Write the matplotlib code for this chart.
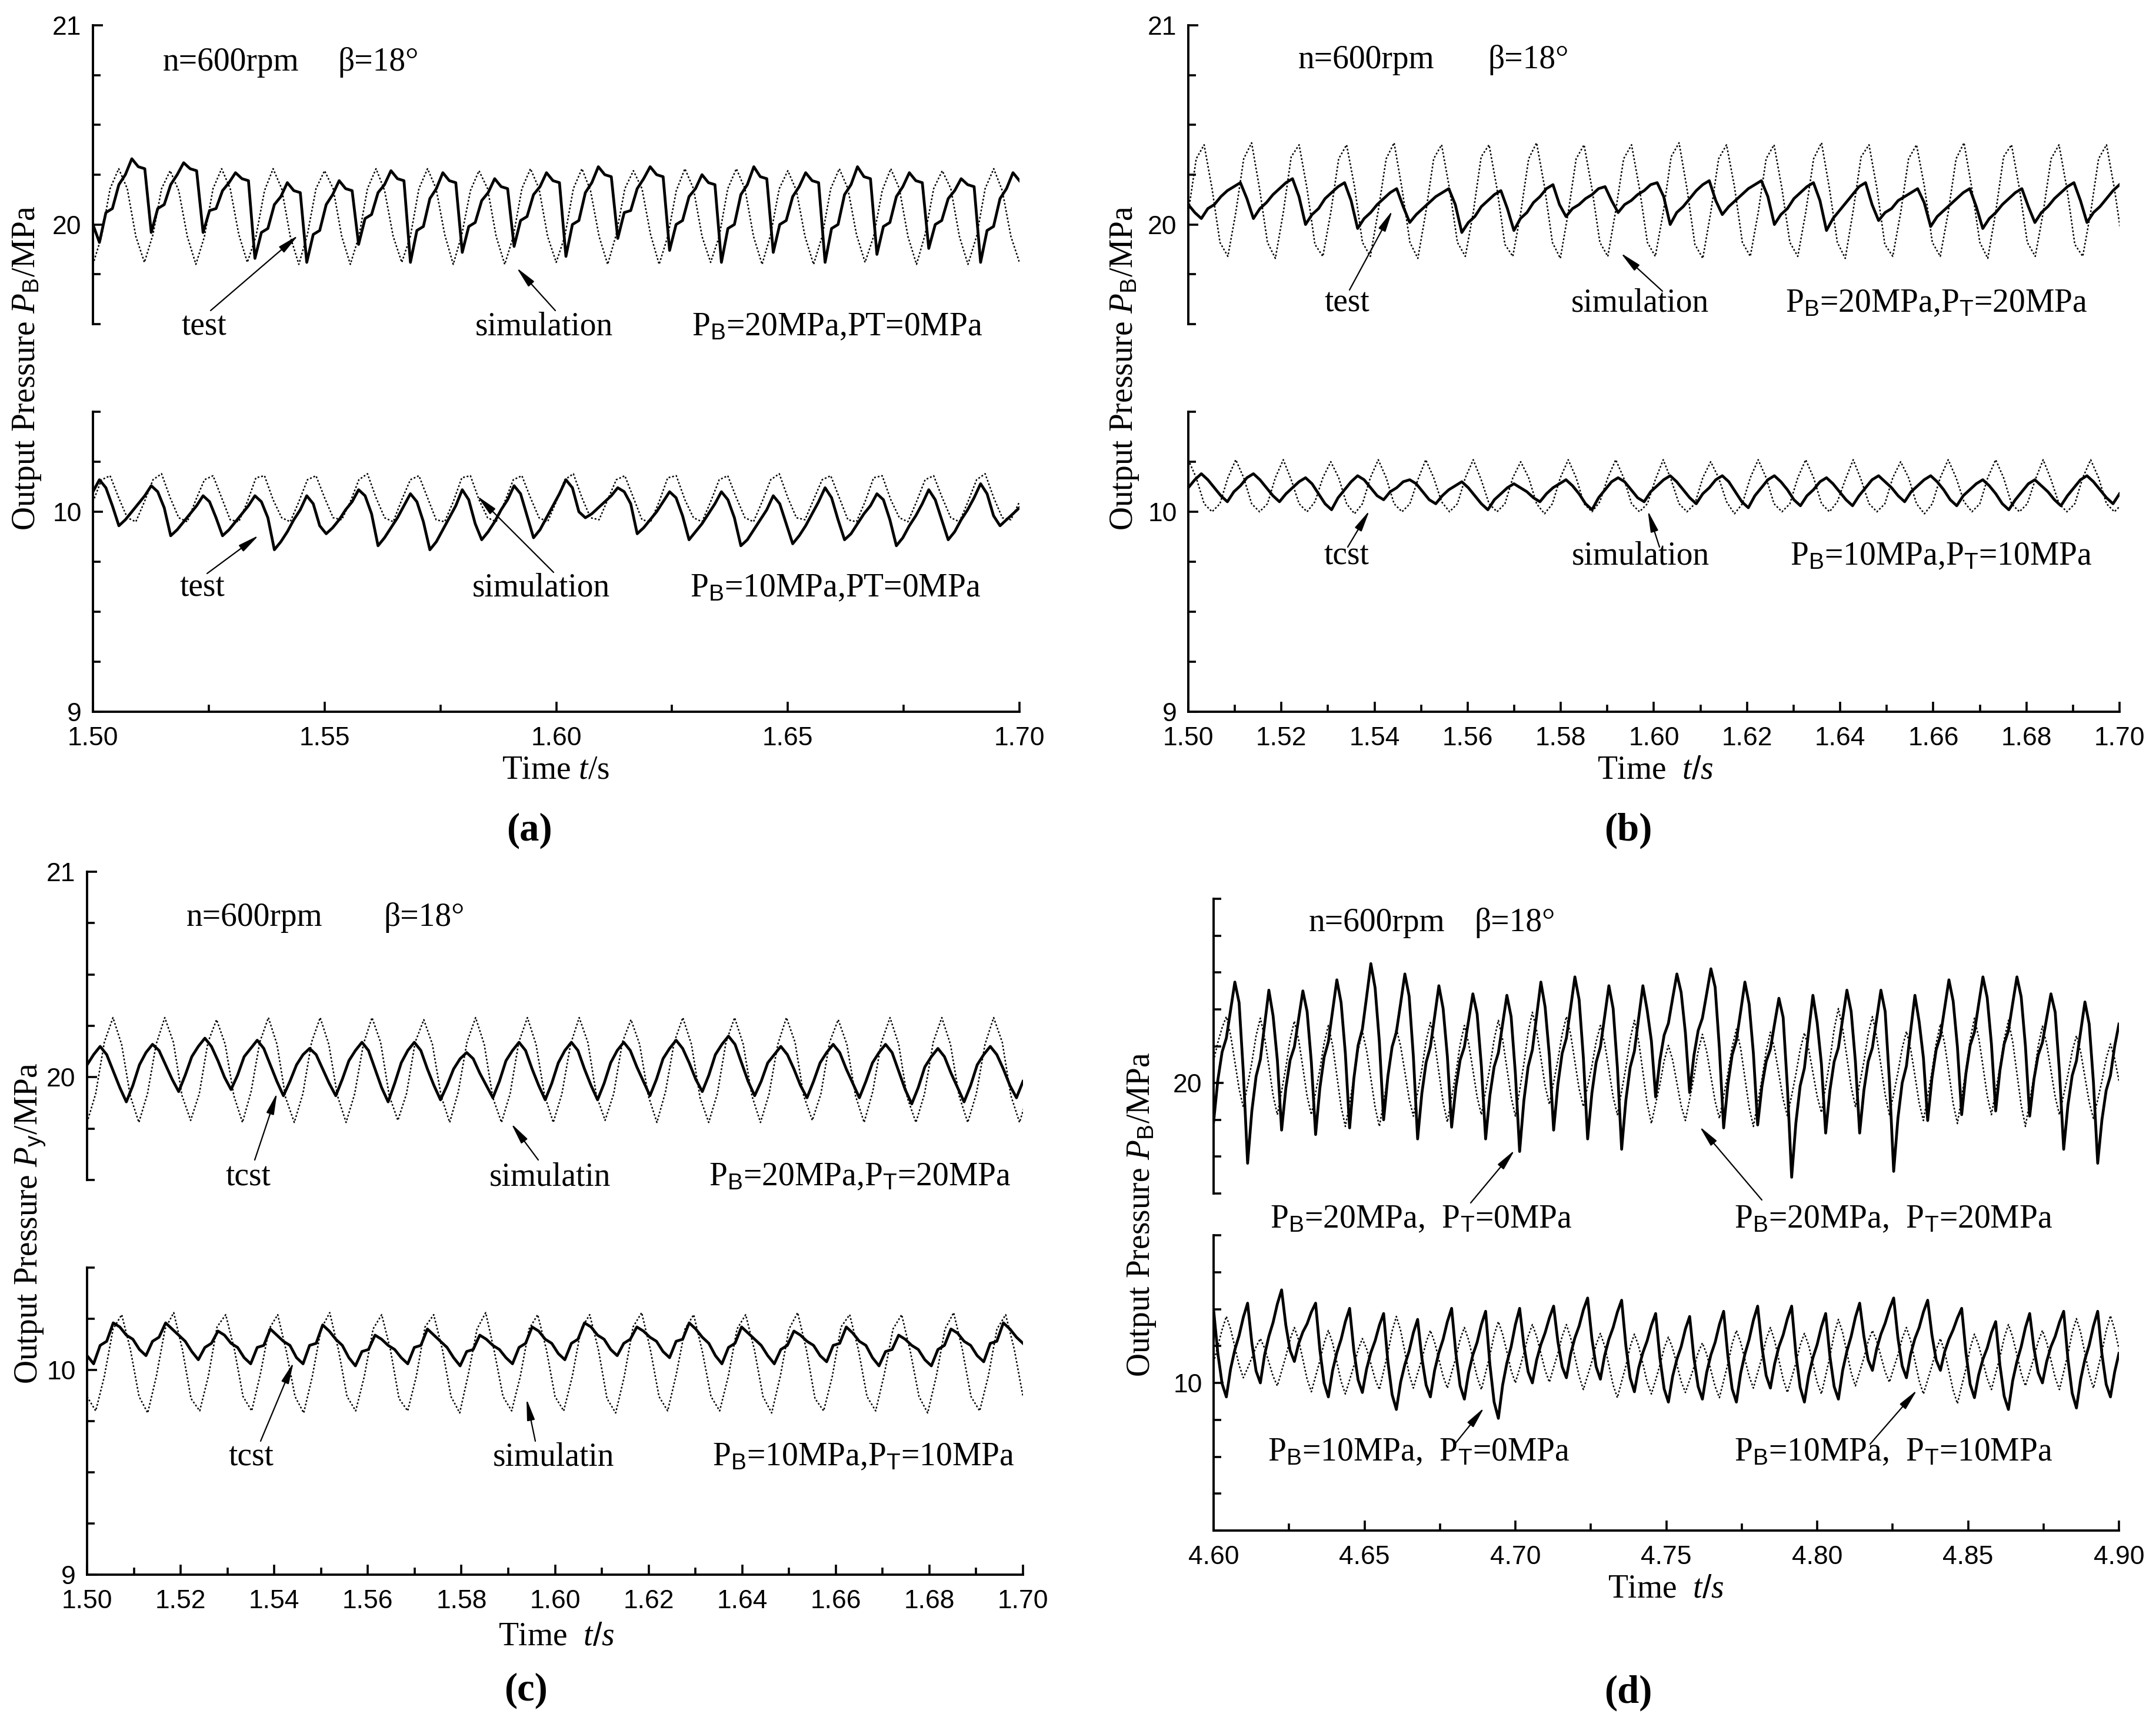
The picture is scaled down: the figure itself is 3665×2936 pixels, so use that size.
import numpy as np
import matplotlib
matplotlib.use("Agg")
import matplotlib.pyplot as plt
from matplotlib.ticker import MultipleLocator, FixedLocator, FormatStrFormatter

# ---------------- data ----------------
# (a)  PB=20/10 MPa, PT=0 MPa ; test sampled every ~1.4 ms, simulation every 1/540 s
TEST_A_TOP = [
    20.00,
    19.91, 20.06, 20.08, 20.20, 20.25, 20.33, 20.29, 20.28,
    19.96, 20.08, 20.10, 20.20, 20.25, 20.31, 20.28, 20.27,
    19.96, 20.07, 20.08, 20.17, 20.21, 20.26, 20.23, 20.22,
    19.83, 19.96, 19.98, 20.10, 20.14, 20.21, 20.17, 20.16,
    19.81, 19.95, 19.97, 20.10, 20.15, 20.22, 20.18, 20.17,
    19.90, 20.03, 20.05, 20.16, 20.20, 20.27, 20.23, 20.22,
    19.81, 19.97, 19.99, 20.13, 20.18, 20.26, 20.22, 20.21,
    19.86, 19.99, 20.01, 20.12, 20.16, 20.23, 20.19, 20.18,
    19.89, 20.02, 20.04, 20.15, 20.19, 20.26, 20.22, 20.21,
    19.84, 20.00, 20.02, 20.16, 20.21, 20.29, 20.25, 20.24,
    19.93, 20.06, 20.07, 20.18, 20.23, 20.29, 20.25, 20.24,
    19.87, 20.00, 20.02, 20.14, 20.18, 20.25, 20.21, 20.20,
    19.81, 19.98, 20.00, 20.15, 20.20, 20.29, 20.24, 20.23,
    19.86, 20.00, 20.02, 20.14, 20.19, 20.26, 20.22, 20.21,
    19.81, 19.98, 20.00, 20.15, 20.20, 20.29, 20.24, 20.23,
    19.85, 19.99, 20.01, 20.14, 20.19, 20.26, 20.22, 20.21,
    19.88, 20.00, 20.02, 20.13, 20.17, 20.23, 20.20, 20.19,
    19.81, 19.97, 19.99, 20.13, 20.18, 20.26, 20.22,
]
SIM_A_TOP = [
    19.80, 19.94, 20.18, 20.28, 20.18, 19.94,
    19.81, 19.95, 20.18, 20.27, 20.17, 19.94,
    19.80, 19.94, 20.18, 20.28, 20.18, 19.95,
    19.81, 19.94, 20.17, 20.28, 20.18, 19.94,
    19.80, 19.95, 20.18, 20.27, 20.18, 19.94,
    19.80, 19.94, 20.18, 20.28, 20.17, 19.94,
    19.81, 19.94, 20.18, 20.28, 20.18, 19.95,
    19.80, 19.95, 20.17, 20.27, 20.18, 19.94,
    19.80, 19.94, 20.18, 20.28, 20.18, 19.94,
    19.81, 19.94, 20.18, 20.28, 20.17, 19.94,
    19.80, 19.95, 20.18, 20.27, 20.18, 19.95,
    19.80, 19.94, 20.17, 20.28, 20.18, 19.94,
    19.81, 19.94, 20.18, 20.28, 20.18, 19.94,
    19.80, 19.95, 20.18, 20.27, 20.17, 19.94,
    19.80, 19.94, 20.18, 20.28, 20.18, 19.95,
    19.81, 19.94, 20.17, 20.28, 20.18, 19.94,
    19.80, 19.95, 20.18, 20.27, 20.18, 19.94,
    19.80, 19.94, 20.18, 20.28, 20.17, 19.94,
    19.81,
]
TEST_A_BOT = [
    10.10, 10.16, 10.12, 10.03,
    9.93, 9.96, 10.00, 10.04, 10.08, 10.13, 10.10, 10.02,
    9.88, 9.91, 9.95, 9.99, 10.03, 10.08, 10.05, 9.97,
    9.88, 9.91, 9.95, 9.99, 10.03, 10.08, 10.05, 9.97,
    9.81, 9.85, 9.90, 9.96, 10.01, 10.08, 10.04, 9.93,
    9.89, 9.92, 9.96, 10.01, 10.05, 10.11, 10.08, 9.99,
    9.83, 9.87, 9.92, 9.97, 10.03, 10.09, 10.05, 9.95,
    9.81, 9.85, 9.91, 9.97, 10.03, 10.11, 10.06, 9.94,
    9.86, 9.90, 9.95, 10.01, 10.06, 10.13, 10.09, 9.98,
    9.87, 9.91, 9.97, 10.03, 10.09, 10.16, 10.12, 10.00,
    9.97, 9.99, 10.02, 10.05, 10.08, 10.12, 10.10, 10.04,
    9.89, 9.92, 9.96, 10.00, 10.05, 10.10, 10.07, 9.98,
    9.86, 9.90, 9.94, 9.99, 10.04, 10.10, 10.06, 9.97,
    9.83, 9.86, 9.91, 9.96, 10.01, 10.08, 10.04, 9.94,
    9.84, 9.88, 9.93, 9.99, 10.05, 10.12, 10.07, 9.96,
    9.86, 9.89, 9.94, 9.99, 10.03, 10.09, 10.06, 9.96,
    9.83, 9.87, 9.93, 9.98, 10.04, 10.11, 10.06, 9.96,
    9.86, 9.90, 9.96, 10.01, 10.07, 10.14, 10.09, 9.98,
    9.93, 9.96, 9.99, 10.02,
]
SIM_A_BOT = [
    10.05, 10.16, 10.18, 10.07, 9.97, 9.95,
    10.05, 10.16, 10.19, 10.07, 9.97, 9.95,
    10.06, 10.16, 10.18, 10.07, 9.96, 9.95,
    10.05, 10.17, 10.18, 10.06, 9.97, 9.95,
    10.05, 10.16, 10.18, 10.07, 9.97, 9.96,
    10.05, 10.16, 10.19, 10.07, 9.97, 9.95,
    10.06, 10.16, 10.18, 10.07, 9.96, 9.95,
    10.05, 10.17, 10.18, 10.06, 9.97, 9.95,
    10.05, 10.16, 10.18, 10.07, 9.97, 9.95,
    10.05, 10.16, 10.19, 10.07, 9.97, 9.96,
    10.06, 10.16, 10.18, 10.07, 9.96, 9.95,
    10.05, 10.17, 10.18, 10.06, 9.97, 9.95,
    10.05, 10.16, 10.18, 10.07, 9.97, 9.95,
    10.05, 10.16, 10.19, 10.07, 9.97, 9.96,
    10.06, 10.16, 10.18, 10.07, 9.96, 9.95,
    10.05, 10.17, 10.18, 10.06, 9.97, 9.95,
    10.05, 10.16, 10.18, 10.07, 9.97, 9.95,
    10.05, 10.16, 10.19, 10.07, 9.97, 9.96,
    10.05,
]

# (b)  PB=20/10 MPa, PT=20/10 MPa ; simulation every 1.7 ms
TEST_B_TOP = [
    20.10, 20.06,
    20.03, 20.08, 20.10, 20.14, 20.17, 20.19, 20.21, 20.13,
    20.03, 20.08, 20.11, 20.15, 20.18, 20.21, 20.23, 20.14,
    20.00, 20.05, 20.08, 20.13, 20.16, 20.19, 20.21, 20.12,
    19.98, 20.03, 20.06, 20.10, 20.13, 20.16, 20.18, 20.09,
    20.01, 20.05, 20.08, 20.11, 20.14, 20.16, 20.18, 20.10,
    19.96, 20.01, 20.04, 20.09, 20.12, 20.15, 20.17, 20.08,
    19.97, 20.03, 20.06, 20.11, 20.14, 20.18, 20.20, 20.10,
    20.04, 20.08, 20.10, 20.13, 20.15, 20.18, 20.19, 20.12,
    20.06, 20.10, 20.12, 20.15, 20.17, 20.20, 20.21, 20.14,
    20.00, 20.06, 20.09, 20.13, 20.17, 20.20, 20.22, 20.12,
    20.05, 20.09, 20.12, 20.15, 20.18, 20.20, 20.22, 20.14,
    20.00, 20.05, 20.08, 20.13, 20.16, 20.19, 20.21, 20.12,
    19.97, 20.03, 20.07, 20.11, 20.15, 20.19, 20.21, 20.10,
    20.02, 20.06, 20.08, 20.12, 20.14, 20.16, 20.18, 20.11,
    19.99, 20.04, 20.07, 20.10, 20.13, 20.16, 20.18, 20.09,
    19.98, 20.03, 20.06, 20.10, 20.13, 20.16, 20.18, 20.09,
    20.01, 20.06, 20.09, 20.13, 20.16, 20.19, 20.21, 20.12,
    20.01, 20.06, 20.09, 20.13, 20.17, 20.20,
]
SIM_B_TOP = [
    20.06, 20.33, 20.40, 20.18, 19.91, 19.84,
    20.06, 20.33, 20.41, 20.18, 19.91, 19.83,
    20.06, 20.34, 20.40, 20.18, 19.90, 19.84,
    20.06, 20.33, 20.40, 20.19, 19.91, 19.84,
    20.07, 20.33, 20.41, 20.18, 19.91, 19.83,
    20.06, 20.33, 20.40, 20.18, 19.91, 19.84,
    20.06, 20.34, 20.40, 20.18, 19.90, 19.84,
    20.06, 20.33, 20.41, 20.19, 19.91, 19.83,
    20.06, 20.33, 20.40, 20.18, 19.91, 19.84,
    20.07, 20.33, 20.40, 20.18, 19.91, 19.84,
    20.06, 20.34, 20.41, 20.18, 19.90, 19.83,
    20.06, 20.33, 20.40, 20.19, 19.91, 19.84,
    20.06, 20.33, 20.40, 20.18, 19.91, 19.84,
    20.06, 20.33, 20.41, 20.18, 19.91, 19.83,
    20.07, 20.34, 20.40, 20.18, 19.90, 19.84,
    20.06, 20.33, 20.40, 20.19, 19.91, 19.84,
    20.06, 20.33, 20.41, 20.18, 19.91, 19.83,
    20.06, 20.34, 20.40, 20.18, 19.91, 19.84,
    20.06, 20.33, 20.40, 20.18, 19.90, 19.84,
    20.06, 20.33, 20.40, 20.18, 19.91,
]
TEST_B_BOT = [
    10.12, 10.16, 10.19,
    10.16, 10.12, 10.08, 10.05, 10.10, 10.13, 10.17, 10.19,
    10.16, 10.12, 10.08, 10.05, 10.09, 10.12, 10.15, 10.17,
    10.14, 10.09, 10.04, 10.01, 10.07, 10.11, 10.15, 10.18,
    10.16, 10.12, 10.08, 10.06, 10.10, 10.12, 10.15, 10.16,
    10.14, 10.10, 10.06, 10.04, 10.08, 10.11, 10.13, 10.15,
    10.12, 10.08, 10.04, 10.01, 10.06, 10.09, 10.12, 10.14,
    10.12, 10.10, 10.07, 10.05, 10.09, 10.12, 10.14, 10.16,
    10.13, 10.09, 10.04, 10.01, 10.07, 10.11, 10.15, 10.17,
    10.15, 10.11, 10.07, 10.05, 10.10, 10.13, 10.16, 10.18,
    10.15, 10.11, 10.07, 10.04, 10.09, 10.12, 10.16, 10.18,
    10.15, 10.10, 10.05, 10.02, 10.08, 10.12, 10.16, 10.18,
    10.15, 10.11, 10.06, 10.03, 10.08, 10.11, 10.15, 10.17,
    10.14, 10.10, 10.06, 10.03, 10.08, 10.12, 10.16, 10.18,
    10.15, 10.12, 10.08, 10.05, 10.10, 10.13, 10.16, 10.18,
    10.15, 10.11, 10.06, 10.03, 10.08, 10.11, 10.14, 10.16,
    10.13, 10.09, 10.04, 10.01, 10.06, 10.10, 10.14, 10.16,
    10.13, 10.10, 10.06, 10.03, 10.08, 10.12, 10.16, 10.18,
    10.15, 10.11, 10.07, 10.04, 10.09,
]
SIM_B_BOT = [
    10.26, 10.17, 10.04, 10.00, 10.04, 10.17,
    10.26, 10.17, 10.04, 10.00, 10.04, 10.17,
    10.26, 10.16, 10.04, 10.00, 10.05, 10.17,
    10.25, 10.17, 10.04, 9.99, 10.04, 10.17,
    10.26, 10.17, 10.04, 10.00, 10.04, 10.16,
    10.26, 10.17, 10.05, 10.00, 10.04, 10.17,
    10.26, 10.16, 10.04, 10.00, 10.04, 10.17,
    10.25, 10.17, 10.04, 9.99, 10.04, 10.17,
    10.26, 10.17, 10.04, 10.00, 10.05, 10.17,
    10.26, 10.17, 10.04, 10.00, 10.04, 10.16,
    10.26, 10.16, 10.04, 10.00, 10.04, 10.17,
    10.25, 10.17, 10.05, 9.99, 10.04, 10.17,
    10.26, 10.17, 10.04, 10.00, 10.04, 10.17,
    10.26, 10.17, 10.04, 10.00, 10.05, 10.16,
    10.26, 10.16, 10.04, 10.00, 10.04, 10.17,
    10.25, 10.17, 10.04, 9.99, 10.04, 10.17,
    10.26, 10.17, 10.05, 10.00, 10.04, 10.17,
    10.26, 10.17, 10.04, 10.00, 10.04, 10.16,
    10.26, 10.16, 10.04, 10.00, 10.04, 10.17,
    10.26, 10.17, 10.04, 10.00, 10.04,
]

# (c)  PB=20/10 MPa, PT=20/10 MPa
TEST_C_TOP = [
    20.06, 20.11, 20.15,
    20.11, 20.03, 19.95, 19.88, 19.96, 20.06, 20.12, 20.16,
    20.13, 20.06, 19.99, 19.93, 20.01, 20.10, 20.15, 20.19,
    20.15, 20.08, 20.00, 19.94, 20.01, 20.10, 20.14, 20.18,
    20.14, 20.06, 19.98, 19.91, 19.98, 20.06, 20.11, 20.14,
    20.11, 20.04, 19.97, 19.91, 19.99, 20.08, 20.13, 20.17,
    20.13, 20.04, 19.95, 19.88, 19.97, 20.07, 20.13, 20.17,
    20.13, 20.04, 19.96, 19.89, 19.96, 20.04, 20.09, 20.12,
    20.09, 20.02, 19.96, 19.90, 19.98, 20.08, 20.13, 20.17,
    20.13, 20.04, 19.96, 19.89, 19.97, 20.07, 20.13, 20.17,
    20.13, 20.04, 19.96, 19.89, 19.97, 20.07, 20.13, 20.17,
    20.13, 20.05, 19.98, 19.91, 19.99, 20.09, 20.14, 20.18,
    20.14, 20.07, 19.99, 19.93, 20.01, 20.11, 20.16, 20.20,
    20.16, 20.07, 19.98, 19.91, 19.98, 20.07, 20.11, 20.15,
    20.11, 20.04, 19.96, 19.90, 19.98, 20.07, 20.12, 20.16,
    20.12, 20.04, 19.97, 19.90, 19.98, 20.07, 20.12, 20.16,
    20.12, 20.03, 19.94, 19.87, 19.95, 20.05, 20.10, 20.14,
    20.10, 20.02, 19.95, 19.88, 19.96, 20.06, 20.11, 20.15,
    20.11, 20.04, 19.96, 19.90, 19.98,
]
SIM_C_TOP = [
    19.78, 19.92, 20.17, 20.29, 20.16, 19.91,
    19.78, 19.92, 20.16, 20.29, 20.17, 19.91,
    19.79, 19.92, 20.17, 20.28, 20.16, 19.91,
    19.78, 19.93, 20.17, 20.29, 20.16, 19.90,
    19.78, 19.92, 20.17, 20.29, 20.16, 19.91,
    19.78, 19.92, 20.16, 20.29, 20.17, 19.91,
    19.79, 19.92, 20.17, 20.28, 20.16, 19.91,
    19.78, 19.93, 20.17, 20.29, 20.16, 19.90,
    19.78, 19.92, 20.17, 20.29, 20.16, 19.91,
    19.78, 19.92, 20.16, 20.29, 20.17, 19.91,
    19.79, 19.92, 20.17, 20.28, 20.16, 19.91,
    19.78, 19.93, 20.17, 20.29, 20.16, 19.90,
    19.78, 19.92, 20.17, 20.29, 20.16, 19.91,
    19.78, 19.92, 20.16, 20.29, 20.17, 19.91,
    19.79, 19.92, 20.17, 20.28, 20.16, 19.91,
    19.78, 19.93, 20.17, 20.29, 20.16, 19.90,
    19.78, 19.92, 20.17, 20.29, 20.16, 19.91,
    19.78, 19.92, 20.16, 20.29, 20.17, 19.91,
    19.78, 19.92,
]
TEST_C_BOT = [
    10.07, 10.03,
    10.12, 10.14, 10.23, 10.21, 10.17, 10.15, 10.10, 10.07,
    10.14, 10.16, 10.23, 10.20, 10.17, 10.14, 10.09, 10.05,
    10.11, 10.13, 10.19, 10.17, 10.13, 10.11, 10.06, 10.03,
    10.11, 10.12, 10.20, 10.17, 10.14, 10.12, 10.06, 10.03,
    10.12, 10.13, 10.22, 10.19, 10.15, 10.12, 10.06, 10.02,
    10.09, 10.10, 10.17, 10.15, 10.12, 10.10, 10.06, 10.03,
    10.11, 10.12, 10.20, 10.17, 10.14, 10.11, 10.06, 10.02,
    10.09, 10.10, 10.17, 10.15, 10.12, 10.10, 10.06, 10.03,
    10.11, 10.13, 10.21, 10.19, 10.15, 10.13, 10.08, 10.05,
    10.13, 10.15, 10.23, 10.21, 10.17, 10.15, 10.10, 10.07,
    10.13, 10.15, 10.21, 10.19, 10.16, 10.14, 10.09, 10.06,
    10.14, 10.15, 10.23, 10.20, 10.16, 10.13, 10.07, 10.03,
    10.11, 10.13, 10.21, 10.18, 10.15, 10.12, 10.07, 10.03,
    10.10, 10.12, 10.19, 10.17, 10.14, 10.12, 10.07, 10.04,
    10.12, 10.13, 10.21, 10.18, 10.14, 10.12, 10.06, 10.02,
    10.09, 10.10, 10.17, 10.15, 10.12, 10.10, 10.05, 10.02,
    10.10, 10.12, 10.20, 10.18, 10.14, 10.12, 10.07, 10.04,
    10.13, 10.14, 10.23, 10.20, 10.16, 10.13,
]
SIM_C_BOT = [
    9.87, 9.80, 9.97, 10.20, 10.27, 10.10,
    9.87, 9.79, 9.97, 10.20, 10.28, 10.10,
    9.86, 9.80, 9.97, 10.21, 10.27, 10.10,
    9.87, 9.80, 9.98, 10.20, 10.27, 10.09,
    9.87, 9.79, 9.97, 10.20, 10.28, 10.10,
    9.87, 9.80, 9.97, 10.20, 10.27, 10.10,
    9.86, 9.80, 9.97, 10.21, 10.27, 10.10,
    9.87, 9.79, 9.98, 10.20, 10.28, 10.09,
    9.87, 9.80, 9.97, 10.20, 10.27, 10.10,
    9.87, 9.80, 9.97, 10.20, 10.27, 10.10,
    9.86, 9.79, 9.97, 10.21, 10.28, 10.10,
    9.87, 9.80, 9.98, 10.20, 10.27, 10.09,
    9.87, 9.80, 9.97, 10.20, 10.27, 10.10,
    9.87, 9.79, 9.97, 10.20, 10.28, 10.10,
    9.86, 9.80, 9.97, 10.21, 10.27, 10.10,
    9.87, 9.80, 9.98, 10.20, 10.27, 10.09,
    9.87, 9.79, 9.97, 10.20, 10.28, 10.10,
    9.87, 9.80, 9.97, 10.20, 10.27, 10.10,
    9.87,
]

# (d)  4.60-4.90 s, PT=0 (solid) against PT=PB (dotted)
TEST_D_TOP_PT0 = [
    19.47, 20.04, 20.42, 20.61, 20.99, 21.37, 21.09, 20.14,
    18.91, 19.62, 20.09, 20.32, 20.79, 21.26, 20.91, 20.31,
    19.36, 19.93, 20.31, 20.49, 20.87, 21.25, 20.97, 20.28,
    19.30, 19.93, 20.35, 20.56, 20.98, 21.40, 21.09, 20.40,
    19.39, 20.06, 20.51, 20.73, 21.17, 21.62, 21.29, 20.56,
    19.50, 20.09, 20.49, 20.69, 21.08, 21.48, 21.18, 20.36,
    19.24, 19.86, 20.28, 20.49, 20.90, 21.32, 21.01, 20.36,
    19.40, 19.94, 20.31, 20.49, 20.85, 21.21, 20.94, 20.23,
    19.24, 19.83, 20.22, 20.41, 20.80, 21.19, 20.90, 20.13,
    19.07, 19.76, 20.22, 20.45, 20.91, 21.37, 21.03, 20.37,
    19.36, 19.98, 20.40, 20.61, 21.02, 21.44, 21.13, 20.34,
    19.24, 19.86, 20.28, 20.49, 20.90, 21.32, 21.01, 20.21,
    19.10, 19.77, 20.21, 20.43, 20.88, 21.32, 20.99, 20.57,
    19.81, 20.31, 20.65, 20.81, 21.15, 21.48, 21.23, 20.68,
    19.87, 20.37, 20.71, 20.88, 21.21, 21.55, 21.30, 20.47,
    19.39, 19.98, 20.38, 20.58, 20.97, 21.37, 21.07, 20.40,
    19.43, 19.95, 20.29, 20.46, 20.81, 21.15, 20.89, 19.94,
    18.72, 19.46, 19.96, 20.20, 20.70, 21.19, 20.82, 20.26,
    19.32, 19.90, 20.29, 20.48, 20.87, 21.26, 20.97, 20.29,
    19.32, 19.90, 20.29, 20.48, 20.87, 21.26, 20.97, 20.03,
    18.80, 19.52, 20.00, 20.23, 20.71, 21.19, 20.83, 20.34,
    19.49, 20.06, 20.45, 20.64, 21.02, 21.40, 21.11, 20.49,
    19.57, 20.13, 20.51, 20.69, 21.07, 21.44, 21.16, 20.53,
    19.62, 20.17, 20.53, 20.71, 21.08, 21.44, 21.17, 20.50,
    19.55, 20.05, 20.38, 20.55, 20.88, 21.21, 20.96, 20.16,
    19.10, 19.70, 20.10, 20.30, 20.70, 21.10, 20.80, 20.01,
    18.91, 19.50, 19.90, 20.10, 20.50, 20.80,
]
TEST_D_TOP_PT20 = [
    20.30, 20.55, 20.75,
    20.90, 20.65, 20.29, 19.92, 19.67, 19.97, 20.28, 20.64,
    20.88, 20.62, 20.23, 19.83, 19.57, 19.89, 20.21, 20.59,
    20.84, 20.59, 20.21, 19.82, 19.57, 19.87, 20.18, 20.54,
    20.78, 20.51, 20.10, 19.68, 19.41, 19.73, 20.06, 20.44,
    20.70, 20.44, 20.06, 19.67, 19.41, 19.74, 20.08, 20.47,
    20.74, 20.50, 20.15, 19.79, 19.55, 19.87, 20.19, 20.57,
    20.82, 20.55, 20.15, 19.74, 19.47, 19.80, 20.13, 20.52,
    20.78, 20.54, 20.18, 19.81, 19.57, 19.89, 20.21, 20.59,
    20.85, 20.59, 20.20, 19.81, 19.55, 19.90, 20.26, 20.68,
    20.96, 20.71, 20.34, 19.96, 19.71, 20.01, 20.31, 20.66,
    20.90, 20.66, 20.29, 19.92, 19.68, 19.96, 20.23, 20.56,
    20.78, 20.54, 20.18, 19.81, 19.57, 19.89, 20.21, 20.59,
    20.85, 20.57, 20.15, 19.73, 19.45, 19.72, 19.98, 20.30,
    20.51, 20.31, 20.00, 19.69, 19.49, 19.78, 20.08, 20.43,
    20.66, 20.43, 20.09, 19.75, 19.52, 19.82, 20.13, 20.49,
    20.73, 20.47, 20.07, 19.67, 19.41, 19.73, 20.05, 20.43,
    20.69, 20.46, 20.12, 19.78, 19.55, 19.83, 20.12, 20.45,
    20.68, 20.46, 20.14, 19.82, 19.60, 19.95, 20.31, 20.73,
    21.01, 20.74, 20.35, 19.95, 19.68, 19.99, 20.29, 20.66,
    20.90, 20.63, 20.24, 19.84, 19.57, 19.85, 20.14, 20.47,
    20.70, 20.46, 20.10, 19.73, 19.49, 19.82, 20.15, 20.54,
    20.80, 20.53, 20.13, 19.72, 19.45, 19.81, 20.17, 20.59,
    20.88, 20.62, 20.23, 19.83, 19.57, 19.89, 20.21, 20.59,
    20.85, 20.56, 20.13, 19.70, 19.41, 19.75, 20.09, 20.50,
    20.77, 20.53, 20.17, 19.81, 19.57, 19.84, 20.11, 20.43,
    20.64, 20.42, 20.08, 19.74, 19.52, 19.77, 20.03, 20.33,
    20.53, 20.33, 20.03,
]
TEST_D_BOT_PT0 = [
    10.99, 10.40, 9.99, 9.81, 10.19, 10.45, 10.64, 10.89,
    11.08, 10.54, 10.16, 10.00, 10.38, 10.63, 10.82, 11.07,
    11.26, 10.78, 10.44, 10.29, 10.53, 10.69, 10.80, 10.96,
    11.08, 10.45, 10.00, 9.81, 10.17, 10.41, 10.59, 10.83,
    11.01, 10.44, 10.04, 9.87, 10.19, 10.41, 10.57, 10.78,
    10.94, 10.29, 9.84, 9.64, 10.01, 10.25, 10.43, 10.68,
    10.86, 10.34, 9.97, 9.81, 10.17, 10.41, 10.59, 10.83,
    11.01, 10.40, 9.96, 9.78, 10.14, 10.38, 10.55, 10.79,
    10.97, 10.25, 9.74, 9.52, 9.97, 10.27, 10.49, 10.79,
    11.01, 10.51, 10.15, 10.00, 10.31, 10.52, 10.68, 10.88,
    11.04, 10.56, 10.22, 10.07, 10.39, 10.61, 10.77, 10.99,
    11.15, 10.60, 10.22, 10.05, 10.37, 10.59, 10.75, 10.96,
    11.12, 10.50, 10.07, 9.88, 10.20, 10.41, 10.57, 10.78,
    10.94, 10.34, 9.92, 9.74, 10.09, 10.32, 10.49, 10.73,
    10.90, 10.34, 9.95, 9.78, 10.14, 10.38, 10.55, 10.79,
    10.97, 10.36, 9.92, 9.74, 10.13, 10.39, 10.59, 10.85,
    11.04, 10.49, 10.10, 9.93, 10.26, 10.49, 10.65, 10.87,
    11.04, 10.39, 9.94, 9.74, 10.10, 10.34, 10.52, 10.76,
    10.94, 10.36, 9.95, 9.78, 10.17, 10.43, 10.63, 10.89,
    11.08, 10.63, 10.31, 10.17, 10.46, 10.66, 10.81, 11.00,
    11.15, 10.61, 10.23, 10.07, 10.39, 10.60, 10.75, 10.96,
    11.12, 10.65, 10.31, 10.17, 10.42, 10.59, 10.72, 10.88,
    11.01, 10.41, 9.98, 9.80, 10.11, 10.32, 10.47, 10.68,
    10.83, 10.24, 9.82, 9.64, 10.03, 10.29, 10.49, 10.75,
    10.94, 10.47, 10.14, 10.00, 10.29, 10.49, 10.63, 10.82,
    10.97, 10.32, 9.86, 9.66, 10.05, 10.32, 10.51, 10.77,
    10.97, 10.39, 9.98, 9.81, 10.15, 10.40,
]
TEST_D_BOT_PT10 = [
    10.28, 10.50, 10.72,
    10.90, 10.73, 10.49, 10.24, 10.07, 10.20, 10.34, 10.49,
    10.60, 10.47, 10.28, 10.09, 9.96, 10.16, 10.36, 10.59,
    10.75, 10.58, 10.32, 10.05, 9.88, 10.09, 10.30, 10.54,
    10.71, 10.54, 10.28, 10.02, 9.85, 10.04, 10.23, 10.45,
    10.60, 10.46, 10.26, 10.05, 9.91, 10.16, 10.41, 10.70,
    10.90, 10.71, 10.42, 10.12, 9.93, 10.13, 10.32, 10.55,
    10.71, 10.55, 10.32, 10.09, 9.93, 10.14, 10.34, 10.59,
    10.75, 10.58, 10.33, 10.08, 9.91, 10.14, 10.37, 10.65,
    10.83, 10.66, 10.42, 10.17, 10.00, 10.20, 10.40, 10.63,
    10.79, 10.63, 10.40, 10.17, 10.01, 10.21, 10.40, 10.63,
    10.79, 10.61, 10.35, 10.09, 9.91, 10.10, 10.29, 10.52,
    10.67, 10.50, 10.24, 9.97, 9.80, 10.02, 10.23, 10.49,
    10.66, 10.50, 10.26, 10.01, 9.85, 10.04, 10.24, 10.47,
    10.62, 10.47, 10.25, 10.02, 9.87, 10.04, 10.21, 10.41,
    10.54, 10.39, 10.17, 9.95, 9.80, 10.03, 10.26, 10.53,
    10.71, 10.55, 10.32, 10.09, 9.93, 10.14, 10.34, 10.59,
    10.75, 10.57, 10.31, 10.05, 9.87, 10.07, 10.27, 10.51,
    10.67, 10.51, 10.26, 10.01, 9.85, 10.10, 10.36, 10.66,
    10.86, 10.68, 10.41, 10.14, 9.96, 10.15, 10.34, 10.56,
    10.71, 10.57, 10.36, 10.15, 10.01, 10.20, 10.38, 10.60,
    10.75, 10.57, 10.30, 10.03, 9.85, 10.04, 10.23, 10.45,
    10.60, 10.42, 10.16, 9.90, 9.72, 9.96, 10.19, 10.47,
    10.66, 10.51, 10.29, 10.06, 9.91, 10.13, 10.35, 10.61,
    10.79, 10.62, 10.38, 10.13, 9.96, 10.15, 10.34, 10.56,
    10.71, 10.55, 10.31, 10.07, 9.91, 10.15, 10.39, 10.68,
    10.87, 10.68, 10.40, 10.12, 9.93, 10.18, 10.42, 10.71,
    10.91, 10.72, 10.46,
]

# ---------------- style / layout ----------------
plt.rcParams['font.family'] = 'Liberation Serif'
plt.rcParams['mathtext.fontset'] = 'custom'
plt.rcParams['mathtext.rm'] = 'Liberation Sans'
plt.rcParams['mathtext.it'] = 'Liberation Serif:italic'
plt.rcParams['mathtext.bf'] = 'Liberation Serif:bold'

W, H = 3666, 2936
fig = plt.figure(figsize=(W / 200, H / 200), dpi=200)
fig.patch.set_facecolor('white')

TXT = 20
TICK = 16


def box(x0, x1, ytop, ybot):
    # pixel box (measured from top-left) -> figure fraction
    return [x0 / W, 1 - ybot / H, (x1 - x0) / W, (ybot - ytop) / H]


def fp(x, y):
    return (x / W, 1 - y / H)


def style_axis(ax, major, minor):
    ax.patch.set_visible(False)
    for s in ('top', 'right'):
        ax.spines[s].set_visible(False)
    for s in ('left', 'bottom'):
        ax.spines[s].set_linewidth(1.4)
    ax.yaxis.set_major_locator(FixedLocator(major))
    ax.yaxis.set_minor_locator(MultipleLocator(minor))
    ax.tick_params(which='both', direction='in', width=1.3, labelsize=TICK,
                   labelfontfamily='Liberation Sans', pad=7)
    ax.tick_params(which='major', length=6)
    ax.tick_params(which='minor', length=4.5)


def make_panel(x0, x1, top_span, bot_span, top_lim, bot_lim, top_major, bot_major,
               yminor, xlim, xmajor, xminor):
    ax_t = fig.add_axes(box(x0, x1, *top_span))
    ax_b = fig.add_axes(box(x0, x1, *bot_span))
    style_axis(ax_t, top_major, yminor)
    style_axis(ax_b, bot_major, yminor)
    ax_t.set_ylim(*top_lim)
    ax_b.set_ylim(*bot_lim)
    for ax in (ax_t, ax_b):
        ax.set_xlim(*xlim)
    ax_t.spines['bottom'].set_visible(False)
    ax_t.tick_params(axis='x', which='both', bottom=False, labelbottom=False)
    ax_b.xaxis.set_major_locator(MultipleLocator(xmajor))
    ax_b.xaxis.set_minor_locator(MultipleLocator(xminor))
    ax_b.xaxis.set_major_formatter(FormatStrFormatter('%.2f'))
    ax_b.tick_params(axis='x', pad=9)
    return ax_t, ax_b


def solid(ax, t, y):
    ax.plot(t, y, color='black', lw=1.7, zorder=3)


def dotted(ax, t, y):
    ax.plot(t, y, color='black', lw=0.9, linestyle=(0, (1.2, 1.3)), zorder=2)


def label(x, y, s, ha='left'):
    fig.text(*fp(x, y), s, fontsize=TXT, ha=ha, va='center')


def arrow(ax, tail, head):
    ax.annotate('', xy=fp(*head), xycoords='figure fraction',
                xytext=fp(*tail), textcoords='figure fraction',
                arrowprops=dict(arrowstyle='-|>,head_length=0.55,head_width=0.1',
                                color='black', lw=0.8, shrinkA=0, shrinkB=0,
                                mutation_scale=20))


t_test = np.linspace(1.5, 1.7, 144)
t_test_d = np.linspace(4.6, 4.9, 214)
t_sim_a = 1.5 + np.arange(len(SIM_A_TOP)) / 540
t_sim_b = 1.5 + 0.0017 * np.arange(len(SIM_B_TOP))
t_sim_c_top = 1.5 + 0.001845 * np.arange(len(SIM_C_TOP))
t_sim_c_bot = 1.5 + np.arange(len(SIM_C_BOT)) / 540

# ---------------- (a) ----------------
at, ab = make_panel(158, 1733, (43, 551), (700, 1210), (19.5, 21), (9, 10.5),
                    [20, 21], [9, 10], 0.25, (1.5, 1.7), 0.05, 0.025)
dotted(at, t_sim_a, SIM_A_TOP)
solid(at, t_test, TEST_A_TOP)
dotted(ab, t_sim_a, SIM_A_BOT)
solid(ab, t_test, TEST_A_BOT)
label(277, 106, 'n=600rpm')
label(574, 106, 'β=18°')
label(347, 556, 'test', 'center')
label(925, 556, 'simulation', 'center')
label(1176, 556, 'P$_\\mathrm{B}$=20MPa,PT=0MPa')
label(344, 1000, 'test', 'center')
label(920, 1000, 'simulation', 'center')
label(1173, 1000, 'P$_\\mathrm{B}$=10MPa,PT=0MPa')
arrow(ab, (358, 528), (507, 400))
arrow(ab, (944, 528), (878, 455))
arrow(ab, (352, 975), (440, 910))
arrow(ab, (941, 973), (811, 843))
fig.text(*fp(46, 626), 'Output Pressure $P_\\mathrm{B}$/MPa', fontsize=TXT,
         rotation=90, ha='center', va='center')
fig.text(*fp(945, 1310), 'Time $t$/s', fontsize=TXT, ha='center', va='center')
fig.text(*fp(900, 1412), '(a)', fontsize=24, fontweight='bold', ha='center', va='center')

# ---------------- (b) ----------------
bt, bb = make_panel(2020, 3603, (43, 551), (700, 1210), (19.5, 21), (9, 10.5),
                    [20, 21], [9, 10], 0.25, (1.5, 1.7), 0.02, 0.01)
dotted(bt, t_sim_b, SIM_B_TOP)
solid(bt, t_test, TEST_B_TOP)
dotted(bb, t_sim_b, SIM_B_BOT)
solid(bb, t_test, TEST_B_BOT)
label(2207, 102, 'n=600rpm')
label(2529, 102, 'β=18°')
label(2290, 516, 'test', 'center')
label(2788, 516, 'simulation', 'center')
label(3035, 516, 'P$_\\mathrm{B}$=20MPa,P$_\\mathrm{T}$=20MPa')
label(2289, 946, 'tcst', 'center')
label(2789, 946, 'simulation', 'center')
label(3043, 946, 'P$_\\mathrm{B}$=10MPa,P$_\\mathrm{T}$=10MPa')
arrow(bb, (2294, 493), (2367, 358))
arrow(bb, (2826, 495), (2755, 430))
arrow(bb, (2291, 930), (2328, 868))
arrow(bb, (2821, 930), (2801, 868))
fig.text(*fp(1912, 626), 'Output Pressure $P_\\mathrm{B}$/MPa', fontsize=TXT,
         rotation=90, ha='center', va='center')
fig.text(*fp(2814, 1310), 'Time  $t/s$', fontsize=TXT, ha='center', va='center')
fig.text(*fp(2768, 1412), '(b)', fontsize=24, fontweight='bold', ha='center', va='center')

# ---------------- (c) ----------------
ct, cb = make_panel(148, 1739, (1482, 2006), (2155, 2677), (19.5, 21), (9, 10.5),
                    [20, 21], [9, 10], 0.25, (1.5, 1.7), 0.02, 0.01)
dotted(ct, t_sim_c_top, SIM_C_TOP)
solid(ct, t_test, TEST_C_TOP)
dotted(cb, t_sim_c_bot, SIM_C_BOT)
solid(cb, t_test, TEST_C_BOT)
label(317, 1560, 'n=600rpm')
label(652, 1560, 'β=18°')
label(422, 2001, 'tcst', 'center')
label(935, 2001, 'simulatin', 'center')
label(1205, 2001, 'P$_\\mathrm{B}$=20MPa,P$_\\mathrm{T}$=20MPa')
label(427, 2477, 'tcst', 'center')
label(941, 2477, 'simulatin', 'center')
label(1211, 2477, 'P$_\\mathrm{B}$=10MPa,P$_\\mathrm{T}$=10MPa')
arrow(cb, (433, 1972), (471, 1858))
arrow(cb, (915, 1972), (869, 1910))
arrow(cb, (443, 2450), (499, 2316))
arrow(cb, (910, 2450), (895, 2378))
fig.text(*fp(52, 2080), 'Output Pressure $P_\\mathrm{y}$/MPa', fontsize=TXT,
         rotation=90, ha='center', va='center')
fig.text(*fp(946, 2783), 'Time  $t/s$', fontsize=TXT, ha='center', va='center')
fig.text(*fp(894, 2874), '(c)', fontsize=24, fontweight='bold', ha='center', va='center')

# ---------------- (d) ----------------
dt, db = make_panel(2063, 3602, (1528, 2029), (2100, 2602), (18.5, 22.5), (8, 12),
                    [20], [10], 0.5, (4.6, 4.9), 0.05, 0.025)
dotted(dt, t_test_d, TEST_D_TOP_PT20)
solid(dt, t_test_d, TEST_D_TOP_PT0)
dotted(db, t_test_d, TEST_D_BOT_PT10)
solid(db, t_test_d, TEST_D_BOT_PT0)
label(2225, 1569, 'n=600rpm')
label(2506, 1569, 'β=18°')
label(2159, 2073, 'P$_\\mathrm{B}$=20MPa,  P$_\\mathrm{T}$=0MPa')
label(2948, 2073, 'P$_\\mathrm{B}$=20MPa,  P$_\\mathrm{T}$=20MPa')
label(2155, 2469, 'P$_\\mathrm{B}$=10MPa,  P$_\\mathrm{T}$=0MPa')
label(2948, 2469, 'P$_\\mathrm{B}$=10MPa,  P$_\\mathrm{T}$=10MPa')
arrow(db, (2500, 2045), (2575, 1955))
arrow(db, (2995, 2040), (2889, 1915))
arrow(db, (2473, 2455), (2523, 2393))
arrow(db, (3179, 2455), (3259, 2363))
fig.text(*fp(1941, 2065), 'Output Pressure $P_\\mathrm{B}$/MPa', fontsize=TXT,
         rotation=90, ha='center', va='center')
fig.text(*fp(2832, 2702), 'Time  $t/s$', fontsize=TXT, ha='center', va='center')
fig.text(*fp(2768, 2878), '(d)', fontsize=24, fontweight='bold', ha='center', va='center')

fig.savefig('out.png', dpi=200, facecolor='white')
